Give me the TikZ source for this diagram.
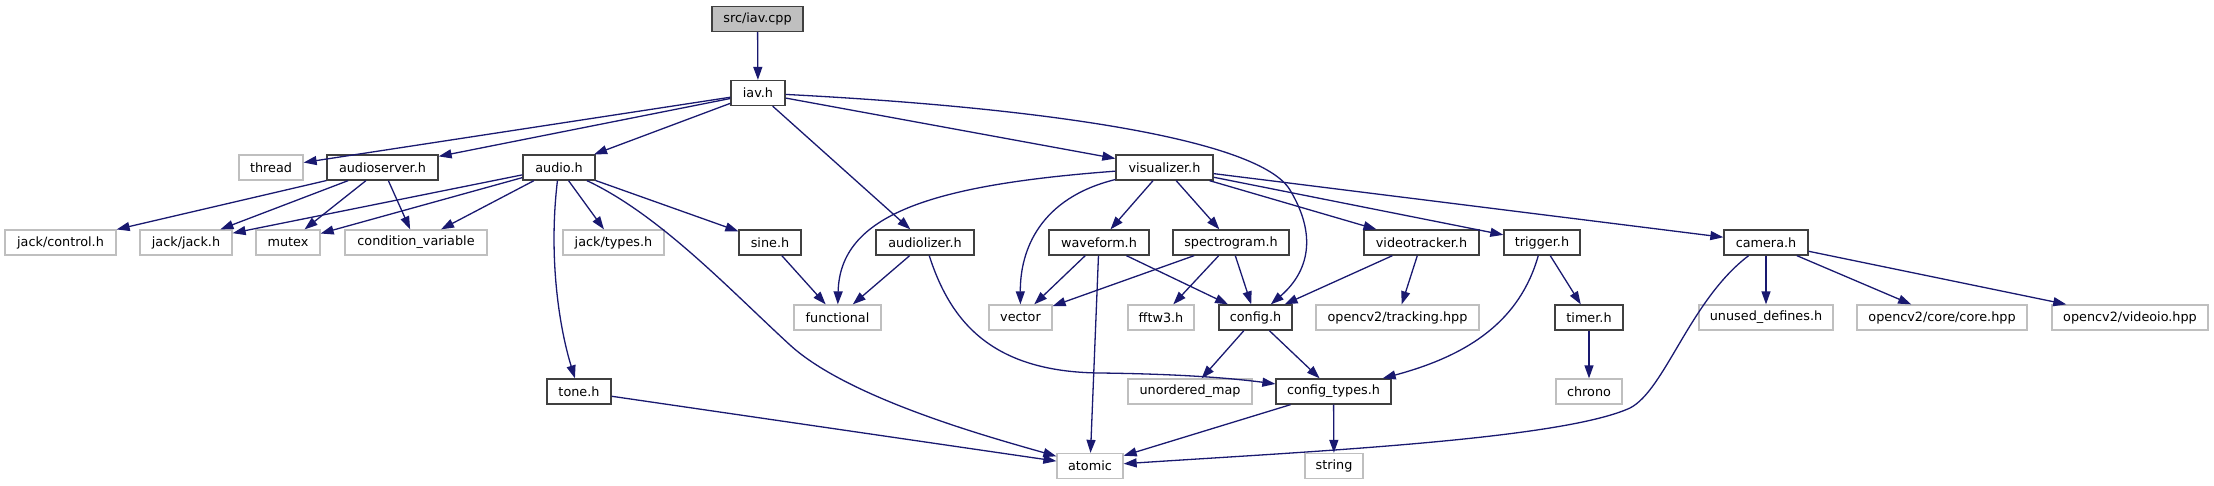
\documentclass[tikz,border=0pt]{standalone}
\usepackage{fontspec}
\setmainfont{DejaVu Sans}
\usepackage{tikz}
\usetikzlibrary{arrows.meta}
\definecolor{incblue}{HTML}{191970}
\definecolor{grey25}{HTML}{404040}
\definecolor{grey75}{HTML}{BFBFBF}

\begin{document}
\begin{tikzpicture}[x=1pt, y=-1pt,
        file/.style = {draw=grey25, line width=1.3pt, fill=white, minimum height=25pt, inner sep=0pt, font=\fontsize{12.8}{15}\selectfont},
        sysfile/.style = {file, draw=grey75},
        rootfile/.style = {file, fill=grey75},
        inc/.style = {-{Triangle[length=13pt, width=9pt]}, incblue, line width=1.3pt}]
            \useasboundingbox (0,0) rectangle (2214,485);

            \node[rootfile, minimum width=91pt] (iavcpp) at (757.5,19) {src/iav.cpp};
            \node[file, minimum width=54pt] (iav) at (758,93) {iav.h};

            \node[sysfile, minimum width=64pt] (thread) at (271,167.5) {thread};
            \node[file, minimum width=111pt] (audioserver) at (382.5,167.5) {audioserver.h};
            \node[file, minimum width=72pt] (audio) at (559,167.5) {audio.h};
            \node[file, minimum width=97pt] (visualizer) at (1164.5,167.5) {visualizer.h};

            \node[sysfile, minimum width=111pt] (jackcontrol) at (60.5,242.5) {jack/control.h};
            \node[sysfile, minimum width=92pt] (jackjack) at (186,242.5) {jack/jack.h};
            \node[sysfile, minimum width=64pt] (mutex) at (288,242.5) {mutex};
            \node[sysfile, minimum width=142pt] (condvar) at (416,242.5) {condition\_variable};
            \node[sysfile, minimum width=101pt] (jacktypes) at (613.5,242.5) {jack/types.h};
            \node[file, minimum width=62pt] (sine) at (770,242.5) {sine.h};
            \node[file, minimum width=98pt] (audiolizer) at (925,242.5) {audiolizer.h};
            \node[file, minimum width=100pt] (waveform) at (1099,242.5) {waveform.h};
            \node[file, minimum width=116pt] (spectrogram) at (1231,242.5) {spectrogram.h};
            \node[file, minimum width=115pt] (videotracker) at (1421.5,242.5) {videotracker.h};
            \node[file, minimum width=76pt] (trigger) at (1542,242.5) {trigger.h};
            \node[file, minimum width=84pt] (camera) at (1766,242.5) {camera.h};

            \node[sysfile, minimum width=87pt] (functional) at (837.5,317.5) {functional};
            \node[sysfile, minimum width=63pt] (vector) at (1020.5,317.5) {vector};
            \node[sysfile, minimum width=66pt] (fftw) at (1161,317.5) {fftw3.h};
            \node[file, minimum width=73pt] (config) at (1255.5,317.5) {config.h};
            \node[sysfile, minimum width=163pt] (tracking) at (1397.5,317.5) {opencv2/tracking.hpp};
            \node[file, minimum width=68pt] (timer) at (1589,317.5) {timer.h};
            \node[sysfile, minimum width=134pt] (unused) at (1766,317.5) {unused\_defines.h};
            \node[sysfile, minimum width=170pt] (core) at (1942,317.5) {opencv2/core/core.hpp};
            \node[sysfile, minimum width=156pt] (videoio) at (2130,317.5) {opencv2/videoio.hpp};

            \node[file, minimum width=64pt] (tone) at (579,391.5) {tone.h};
            \node[sysfile, minimum width=124pt] (unordered) at (1190,391.5) {unordered\_map};
            \node[file, minimum width=115pt] (configtypes) at (1333.5,391.5) {config\_types.h};
            \node[sysfile, minimum width=66pt] (chrono) at (1589,391.5) {chrono};

            \node[sysfile, minimum width=66pt] (atomic) at (1090,466) {atomic};
            \node[sysfile, minimum width=58pt] (string) at (1334,466) {string};

            \path[inc] (iavcpp) edge (iav)
                (iav) edge (thread) edge (audioserver) edge (audio) edge (audiolizer) edge (visualizer)
                (audioserver) edge (jackcontrol) edge (jackjack) edge (mutex) edge (condvar)
                (audio) edge (jackjack) edge (mutex) edge (condvar) edge (jacktypes) edge (sine)
                (sine) edge (functional)
                (audiolizer) edge (functional)
                (visualizer) edge (waveform) edge (spectrogram) edge (videotracker) edge (trigger) edge (camera)
                (waveform) edge (vector) edge (atomic) edge (config)
                (spectrogram) edge (vector) edge (fftw) edge (config)
                (videotracker) edge (config) edge (tracking)
                (trigger) edge (timer)
                (timer) edge (chrono)
                (camera) edge (unused) edge (core) edge (videoio)
                (config) edge (unordered) edge (configtypes)
                (configtypes) edge (atomic) edge (string)
                (tone) edge (atomic);

            % the long bent includes
            \draw[inc] (iav) .. controls (1050,108) and (1260,140) .. (1290,190) .. controls (1320,240) and (1305,275) .. (config);
            \draw[inc] (audio) .. controls (548,260) and (560,330) .. (tone);
            \draw[inc] (audio) .. controls (660,215) and (730,290) .. (790,345) .. controls (850,400) and (1000,440) .. (atomic);
            \draw[inc] (audiolizer) .. controls (950,320) and (990,372) .. (1100,373) .. controls (1180,374) and (1230,378) .. (configtypes);
            \draw[inc] (visualizer) .. controls (930,185) and (840,215) .. (functional);
            \draw[inc] (visualizer) .. controls (1040,198) and (1020,250) .. (vector);
            \draw[inc] (trigger) .. controls (1520,320) and (1470,355) .. (configtypes);
            \draw[inc] (camera) .. controls (1690,300) and (1665,390) .. (1630,408) .. controls (1560,440) and (1300,452) .. (atomic);
        \end{tikzpicture}
\end{document}
